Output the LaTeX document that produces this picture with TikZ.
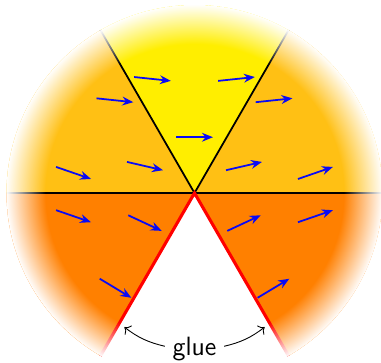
\documentclass[tikz,border=0pt]{standalone}
\usepackage{tikz}
\usetikzlibrary{arrows.meta,fadings}
\definecolor{topC}{RGB}{255,238,0}
\definecolor{sideC}{RGB}{255,192,20}
\definecolor{lowC}{RGB}{255,128,0}
\definecolor{fieldC}{RGB}{10,10,245}
% white rim: see-through inside, solid at the edge
\pgfdeclareradialshading{rimshade}{\pgfpointorigin}{color(0bp)=(black); color(19.75bp)=(black); color(25bp)=(white); color(50bp)=(white)}
\pgfdeclarefading{rim}{\pgfuseshading{rimshade}}

\begin{document}
\begin{tikzpicture}[font=\sffamily\large,>=To,
    vec/.style={fieldC,thick,-{Stealth[length=5pt,width=4pt]}}]
  \def\R{3}
  \def\L{0.295}
  \useasboundingbox (-3.104,-2.697) rectangle (2.976,3.080);
  % sectors
  \fill[topC] (0,0) -- (60:\R) arc (60:120:\R) -- cycle;
  \fill[sideC] (0,0) -- (0:\R) arc (0:60:\R) -- cycle;
  \fill[sideC] (0,0) -- (120:\R) arc (120:180:\R) -- cycle;
  \fill[lowC] (0,0) -- (180:\R) arc (180:240:\R) -- cycle;
  \fill[lowC] (0,0) -- (300:\R) arc (300:360:\R) -- cycle;
  \draw[thick] (180:\R) -- (0:\R);
  \draw[thick] (0,0) -- (60:\R) (0,0) -- (120:\R);
  \draw[red,line width=1.4pt] (240:\R) -- (0,0) -- (300:\R);
  \fill[white,path fading=rim] (0,0) circle (\R);
  % field, mirrored left/right
  \draw[vec] (-\L,0.89) -- (\L,0.89);
  \foreach \x/\y/\a in {0.67/1.82/6, 1.27/1.48/6, 0.79/0.43/13, 1.93/0.32/19,
                        1.93/-0.37/19, 0.79/-0.48/25, 1.26/-1.52/31}{
    \draw[vec] ([shift={(180+\a:\L)}]\x,\y) -- ([shift={(\a:\L)}]\x,\y);
    \draw[vec] ([shift={(180-\a:\L)}]-\x,\y) -- ([shift={(-\a:\L)}]-\x,\y);
  }
  \node (glue) at (0,-2.49) {glue};
  \coordinate (glueL) at (-1.12,-2.14);
  \coordinate (glueR) at (1.12,-2.14);
  \draw[->] (glue) to[bend left=12] (glueL);
  \draw[->] (glue) to[bend right=12] (glueR);
\end{tikzpicture}
\end{document}
